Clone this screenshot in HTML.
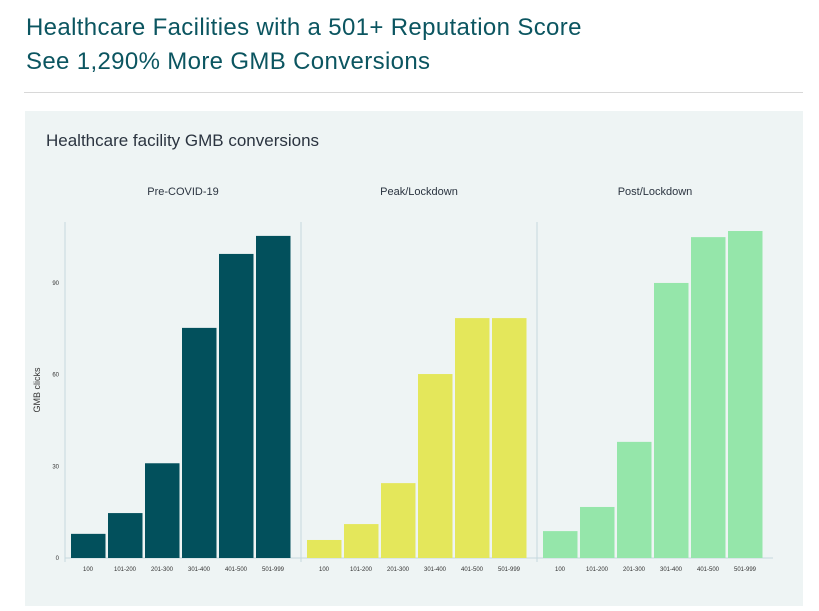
<!DOCTYPE html>
<html><head><meta charset="utf-8"><style>
body{margin:0;background:#fff;width:819px;height:611px;overflow:hidden;font-family:"Liberation Sans",sans-serif}
.t{position:absolute;left:26px;color:#0b5560;font-size:24px;line-height:34px;letter-spacing:0.35px}
</style></head><body>
<div class="t" style="top:11px">Healthcare Facilities with a 501+ Reputation Score</div>
<div class="t" style="top:45px">See 1,290% More GMB Conversions</div>
<div style="position:absolute;left:24px;top:92px;width:779px;height:1px;background:#d8d8d8"></div>
<div style="position:absolute;left:25px;top:111px;width:778px;height:495px;background:#eef4f4"></div>
<svg id="c" width="819" height="611" style="position:absolute;left:0;top:0"></svg>
<script>
const categories=["100","101-200","201-300","301-400","401-500","501-999"];
const panels=["Pre-COVID-19","Peak/Lockdown","Post/Lockdown"];
const preValues=[7.9,14.7,31,75.3,99.5,105.4];
const peakValues=[5.9,11.1,24.5,60.2,78.5,78.5];
const postValues=[8.8,16.7,38,90,105,107];
const yTicks=[0,30,60,90];
const colors=["#02505c","#e4e75b","#95e6aa"];
const series=[preValues,peakValues,postValues];
const NS="http://www.w3.org/2000/svg";
const svg=document.getElementById('c');
const y0=558,pxPer=3.056;
const y=v=>y0-v*pxPer;
const panelX=i=>65+i*236;
function mk(t,a){const e=document.createElementNS(NS,t);for(const k in a)e.setAttribute(k,a[k]);svg.appendChild(e);return e;}
let t=mk('text',{x:46,y:146,'font-size':17,fill:'#2b3440'});t.textContent="Healthcare facility GMB conversions";


t=mk('text',{x:0,y:0,'font-size':9,fill:'#333','text-anchor':'middle',transform:'translate(40,390) rotate(-90)'});t.textContent="GMB clicks";


yTicks.forEach(v=>{const e=mk('text',{x:59,y:y(v)+2,'font-size':6,fill:'#333','text-anchor':'end'});e.textContent=v;

});
let ax=mk('line',{x1:65,x2:773,y1:y0,y2:y0,stroke:'#c5d9de','stroke-width':1});


panels.forEach((p,i)=>{
 const px=panelX(i);
 const l=mk('line',{x1:px,x2:px,y1:222,y2:y0+4,stroke:'#c5d9de','stroke-width':1});
 
 
 const h=mk('text',{x:px+118,y:195,'font-size':11,fill:'#2b3440','text-anchor':'middle'});h.textContent=p;
 
 
 series[i].forEach((v,j)=>{
  const bx=px+6+j*37;
  const r=mk('rect',{x:bx,y:y(v),width:34.5,height:y0-y(v),fill:colors[i]});
  
  
  const c=mk('text',{x:bx+17,y:y0+13,'font-size':6,fill:'#333','text-anchor':'middle'});c.textContent=categories[j];
  
  
 });
});
</script>
</body></html>
